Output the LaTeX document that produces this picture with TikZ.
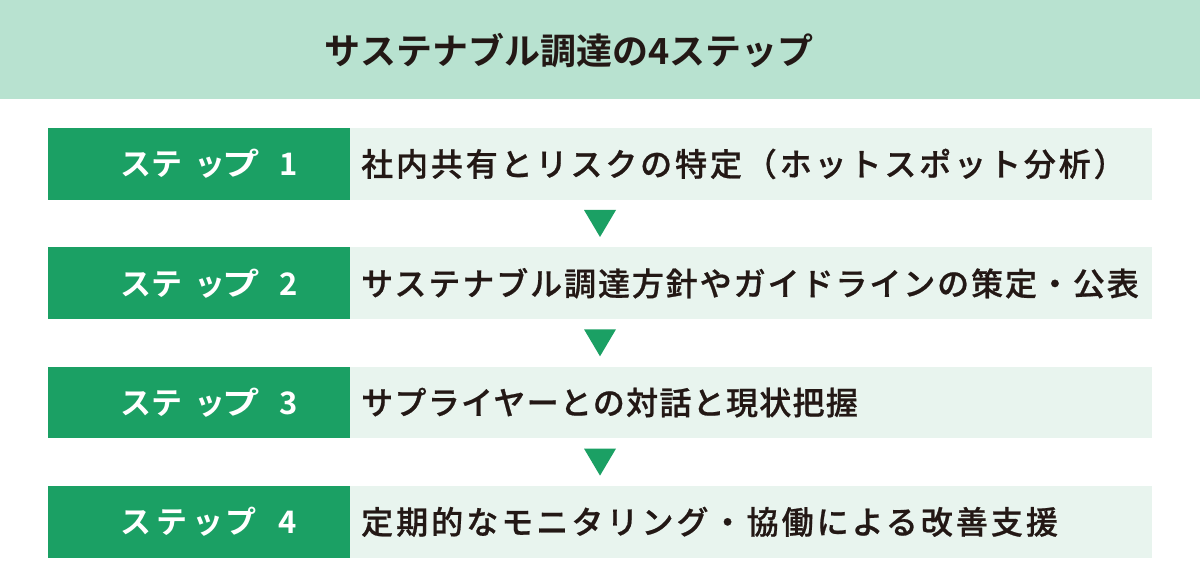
\documentclass[tikz,border=0pt]{standalone}
\usepackage{fontspec}
\usepackage{graphicx}
\setmainfont{Noto Sans CJK JP}
\newfontfamily\jpdesca[LetterSpace=9,FakeBold=0.7]{Noto Sans CJK JP Medium}
\newfontfamily\jpdescb[LetterSpace=6,FakeBold=0.7]{Noto Sans CJK JP Medium}
\newfontfamily\jpdescc[LetterSpace=4,FakeBold=0.7]{Noto Sans CJK JP Medium}
\newfontfamily\jpdescd[LetterSpace=9.5,FakeBold=0.7]{Noto Sans CJK JP Medium}
\newfontfamily\jpbold{Noto Sans CJK JP Bold}
\usetikzlibrary{positioning}
\definecolor{hdr}{RGB}{184,226,208}
\definecolor{dgreen}{RGB}{27,160,100}
\definecolor{lgreen}{RGB}{232,244,238}
\definecolor{ink}{RGB}{35,24,21}
\tikzset{
  stepbox/.style={fill=dgreen, draw=none, minimum width=302pt, minimum height=71.5pt, inner sep=0pt, anchor=north west},
  steplabel/.style={anchor=west, text=white, inner sep=0pt, font=\jpbold\fontsize{31pt}{31pt}\selectfont},
  descbox/.style={fill=lgreen, draw=none, minimum width=802pt, minimum height=71.5pt, inner sep=0pt, anchor=north west},
  desctext/.style={anchor=west, text=ink, inner sep=0pt},
  arrowtri/.style={fill=dgreen, draw=none}
}
\newcommand{\dsize}{\fontsize{32pt}{32pt}\selectfont}
\newcommand{\steplbl}[1]{ス\hspace{0pt}テ\hspace{12pt}ッ\hspace{-3pt}\scalebox{1.2}[1]{プ}\hspace{20pt}#1}
\begin{document}
\begin{tikzpicture}[x=1pt,y=-1pt]
\useasboundingbox (0,0) rectangle (1200,580);
\fill[white] (0,0) rectangle (1200,580);
\node[fill=hdr, minimum width=1200pt, minimum height=98.5pt, inner sep=0pt, anchor=north west] (hdr) at (0,0) {};
\node[text=ink, font=\jpbold\fontsize{36pt}{36pt}\selectfont, inner sep=0pt] (title) at (569,51) {サステナブル調達の4ステップ};
% rows
\node[stepbox] (s1) at (48,128) {};
\node[descbox] (d1) at (350,128) {};
\node[stepbox] (s2) at (48,247.3) {};
\node[descbox] (d2) at (350,247.3) {};
\node[stepbox] (s3) at (48,366.6) {};
\node[descbox] (d3) at (350,366.6) {};
\node[stepbox] (s4) at (48,485.9) {};
\node[descbox] (d4) at (350,485.9) {};
% step labels
\node[steplabel] (l1) at ([xshift=72pt]s1.west) {\steplbl{1}};
\node[steplabel] (l2) at ([xshift=72pt]s2.west) {\steplbl{2}};
\node[steplabel] (l3) at ([xshift=72pt]s3.west) {\steplbl{3}};
\node[steplabel] (l4) at ([xshift=72pt]s4.west) {ス\hspace{5pt}テ\hspace{5pt}ッ\hspace{2pt}プ\hspace{22pt}4};
% descriptions
\node[desctext, font=\jpdesca\dsize] (t1) at ([xshift=11pt]d1.west) {社内共有とリスクの特定（ホットスポット分析）};
\node[desctext, font=\jpdescb\dsize] (t2) at ([xshift=11pt]d2.west) {サステナブル調達方針やガイドラインの策定・公表};
\node[desctext, font=\jpdescc\dsize] (t3) at ([xshift=11pt]d3.west) {サプライヤーとの対話と現状把握};
\node[desctext, font=\jpdescd\dsize] (t4) at ([xshift=11pt]d4.west) {定期的なモニタリング・協働による改善支援};
% triangles
\foreach \y in {210,329.3,448.6}{
  \fill[arrowtri] (584,\y) -- (616,\y) -- (600,\y+27) -- cycle;
}
\end{tikzpicture}
\end{document}
